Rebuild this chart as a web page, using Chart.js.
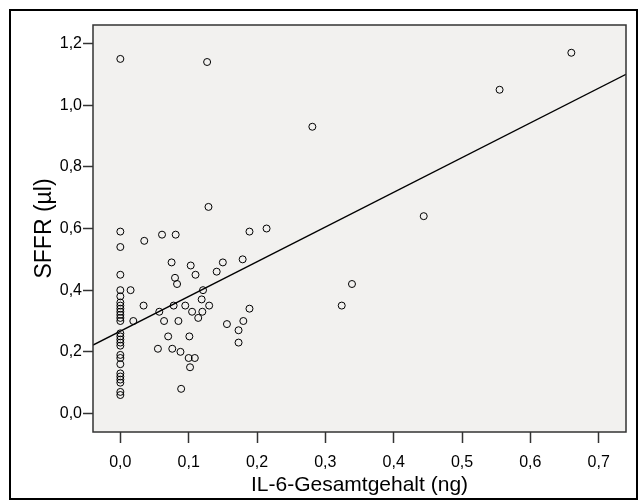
<!DOCTYPE html>
<html>
<head>
<meta charset="utf-8">
<title>SFFR vs IL-6</title>
<script src="https://cdn.jsdelivr.net/npm/chart.js@4.4.7/dist/chart.umd.min.js"></script>
<style>
    body { margin: 0; background: #ffffff; }
    canvas { display: block; }
</style>
</head>
<body>
<canvas id="scatter_chart" width="643" height="502"></canvas>
<script>
// IL-6 total content (ng)
var il6 = [
    0, 0, 0, 0, 0, 0, 0, 0, 0, 0, 0, 0, 0, 0, 0, 0, 0, 0, 0, 0, 0, 0, 0, 0, 0, 0, 0,
    0.015, 0.019, 0.034, 0.035, 0.055, 0.057, 0.061, 0.064, 0.070, 0.075,
    0.076, 0.078, 0.080, 0.081, 0.083, 0.085, 0.088, 0.089, 0.095, 0.100,
    0.101, 0.102, 0.103, 0.105, 0.109, 0.110, 0.114, 0.119, 0.120, 0.121,
    0.127, 0.129, 0.130, 0.141, 0.150, 0.156, 0.173, 0.173, 0.179, 0.180,
    0.189, 0.189, 0.214, 0.281, 0.324, 0.339, 0.444, 0.555, 0.660
];

// SFFR (µl), same order
var sffr = [
    1.15, 0.59, 0.54, 0.45, 0.40, 0.38, 0.36, 0.35, 0.34, 0.33, 0.32, 0.31, 0.30, 0.26,
    0.25, 0.24, 0.23, 0.22, 0.19, 0.18, 0.16, 0.13, 0.12, 0.11, 0.10, 0.07, 0.06,
    0.40, 0.30, 0.35, 0.56, 0.21, 0.33, 0.58, 0.30, 0.25, 0.49,
    0.21, 0.35, 0.44, 0.58, 0.42, 0.30, 0.20, 0.08, 0.35, 0.18,
    0.25, 0.15, 0.48, 0.33, 0.18, 0.45, 0.31, 0.37, 0.33, 0.40,
    1.14, 0.67, 0.35, 0.46, 0.49, 0.29, 0.27, 0.23, 0.50, 0.30,
    0.59, 0.34, 0.60, 0.93, 0.35, 0.42, 0.64, 1.05, 1.17
];

// Fit line end points, read at the plot edges
var fitX = [-0.04, 0.74];
var fitY = [0.222, 1.100];

var xTicks = [0, 0.1, 0.2, 0.3, 0.4, 0.5, 0.6, 0.7];
var yTicks = [0, 0.2, 0.4, 0.6, 0.8, 1.0, 1.2];

var fontFamily = "'Liberation Sans', Arial, sans-serif";

function toPoints(xs, ys) {
    var pts = [];
    xs.forEach((x, i) => {
        pts.push({x: x, y: ys[i]});
    });
    return pts;
}

function commaLabel(value) {
    return value.toFixed(1).replace('.', ',');
}

// Plot background and frames
var framePlugin = {
    id: 'frames',
    beforeDatasetsDraw: function(chart) {
        var ctx = chart.ctx;
        var a = chart.chartArea;
        ctx.save();
        ctx.fillStyle = '#f2f1ef';
        ctx.fillRect(a.left, a.top, a.right - a.left, a.bottom - a.top);
        ctx.restore();
    },
    afterDraw: function(chart) {
        var ctx = chart.ctx;
        var a = chart.chartArea;
        ctx.save();
        ctx.strokeStyle = '#333333';
        ctx.lineWidth = 1.5;
        ctx.strokeRect(a.left, a.top, a.right - a.left, a.bottom - a.top);
        ctx.strokeStyle = '#000000';
        ctx.lineWidth = 2;
        ctx.strokeRect(10, 10, 627, 489);
        ctx.restore();
    }
};

var ctx = document.getElementById('scatter_chart');

var data = {
    datasets: [
        {
            type: 'scatter',
            data: toPoints(il6, sffr),
            pointStyle: 'circle',
            pointRadius: 3.5,
            pointHoverRadius: 3.5,
            pointBorderWidth: 1,
            pointBorderColor: '#000000',
            pointBackgroundColor: 'rgba(0,0,0,0)'
        },
        {
            type: 'line',
            data: toPoints(fitX, fitY),
            borderColor: '#000000',
            borderWidth: 1.3,
            pointRadius: 0,
            fill: false
        }
    ]
};

var options = {
    responsive: false,
    animation: false,
    layout: {
        padding: { top: 25, right: 17, left: 0, bottom: 0 }
    },
    scales: {
        x: {
            type: 'linear',
            min: -0.04,
            max: 0.74,
            afterFit: function(scale) { scale.height = 70; },
            afterBuildTicks: function(scale) {
                scale.ticks = xTicks.map(v => ({value: v}));
            },
            grid: {
                drawOnChartArea: false,
                drawTicks: true,
                tickLength: 11,
                tickWidth: 1.5,
                tickColor: '#333333'
            },
            border: { display: false },
            ticks: {
                padding: 10,
                color: '#000000',
                maxRotation: 0,
                font: { size: 16, family: fontFamily },
                callback: function(value) { return commaLabel(value); }
            },
            title: {
                display: true,
                text: 'IL-6-Gesamtgehalt (ng)',
                color: '#000000',
                padding: { top: 0, bottom: 4 },
                font: { size: 21, family: fontFamily }
            }
        },
        y: {
            type: 'linear',
            min: -0.06,
            max: 1.26,
            afterFit: function(scale) { scale.width = 93; },
            afterBuildTicks: function(scale) {
                scale.ticks = yTicks.map(v => ({value: v}));
            },
            grid: {
                drawOnChartArea: false,
                drawTicks: true,
                tickLength: 10,
                tickWidth: 1.5,
                tickColor: '#333333'
            },
            border: { display: false },
            ticks: {
                padding: 1,
                color: '#000000',
                font: { size: 16, family: fontFamily },
                callback: function(value) { return commaLabel(value); }
            },
            title: {
                display: true,
                text: 'SFFR (µl)',
                color: '#000000',
                padding: { top: 31, bottom: 0 },
                font: { size: 23, family: fontFamily }
            }
        }
    },
    plugins: {
        legend: { display: false },
        tooltip: { enabled: false }
    }
};

var chart = new Chart(ctx, { data: data, options: options, plugins: [framePlugin] });
</script>
</body>
</html>
